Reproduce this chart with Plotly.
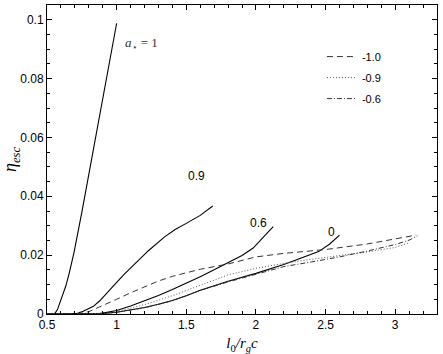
import plotly.graph_objects as go

# spin a* = 1, 0.9, 0.6, 0 (solid)
x_a1 = [0.5, 0.554, 0.575, 0.595, 0.612, 0.635, 0.66, 0.693, 0.75, 0.8, 0.9, 1.0]
y_a1 = [0, 0, 0.0015, 0.004, 0.0065, 0.0095, 0.014, 0.0207, 0.0345, 0.0475, 0.073, 0.0988]

x_a09 = [0.5, 0.705, 0.76, 0.833, 0.879, 0.94, 0.995, 1.05, 1.112, 1.228, 1.344, 1.42, 1.5, 1.6, 1.69]
y_a09 = [0, 0, 0.0009, 0.0026, 0.0045, 0.0075, 0.0105, 0.0133, 0.0161, 0.0215, 0.0262, 0.0287, 0.0308, 0.0335, 0.0367]

x_a06 = [0.5, 0.85, 0.9, 1.0, 1.1, 1.2, 1.3, 1.4, 1.5, 1.6, 1.7, 1.8, 1.9, 1.98, 2.05, 2.124]
y_a06 = [0, 0, 0.0003, 0.0012, 0.0027, 0.0044, 0.0063, 0.0083, 0.0104, 0.0127, 0.015, 0.0174, 0.0199, 0.0224, 0.0258, 0.0297]

x_a0 = [0.5, 0.8, 0.9, 1.0, 1.1, 1.2, 1.3, 1.4, 1.5, 1.6, 1.8, 2.0, 2.2, 2.45, 2.53, 2.6]
y_a0 = [0, 0, 0.0002, 0.0006, 0.0013, 0.0022, 0.0033, 0.0046, 0.0062, 0.0081, 0.0111, 0.0138, 0.0168, 0.0212, 0.0238, 0.0268]

# retrograde spins (legend)
x_m10 = [0.5, 0.72, 0.8, 0.9, 1.0, 1.1, 1.2, 1.3, 1.4, 1.5, 1.6, 1.7, 1.8, 1.9, 2.0, 2.2, 2.5, 2.8, 3.0, 3.15]
y_m10 = [0, 0, 0.0008, 0.0028, 0.005, 0.0072, 0.0093, 0.0112, 0.0128, 0.0141, 0.0152, 0.0161, 0.017, 0.0182, 0.0194, 0.0206, 0.0219, 0.0238, 0.0254, 0.0268]

x_m09 = [0.5, 0.85, 0.9, 1.0, 1.2, 1.4, 1.6, 1.8, 2.0, 2.2, 2.4, 2.6, 2.8, 3.0, 3.1]
y_m09 = [0, 0, 0.0002, 0.0008, 0.0032, 0.0062, 0.0098, 0.0133, 0.0155, 0.0172, 0.0186, 0.0198, 0.0211, 0.0226, 0.0242]

x_m06 = [0.5, 0.8, 0.9, 1.0, 1.2, 1.4, 1.6, 1.8, 2.0, 2.2, 2.4, 2.6, 2.8, 3.0, 3.1, 3.16]
y_m06 = [0, 0, 0.0002, 0.0006, 0.0021, 0.0045, 0.008, 0.0109, 0.0134, 0.0161, 0.0177, 0.0194, 0.0214, 0.0236, 0.0251, 0.0266]

curve_labels = ["<i>a</i><sub>\u22c6</sub> = 1", "0.9", "0.6", "0"]
legend_names = ["-1.0", "-0.9", "-0.6"]

fig = go.Figure()

for xs, ys in [(x_a1, y_a1), (x_a09, y_a09), (x_a06, y_a06), (x_a0, y_a0)]:
    fig.add_trace(go.Scatter(x=xs, y=ys, mode="lines", showlegend=False,
                             line=dict(color="black", width=1.1)))

styles = ["6px,4px", "1px,2px", "5px,2px,1px,2px"]
colors = ["#333333", "#555555", "#333333"]
for i, (xs, ys) in enumerate([(x_m10, y_m10), (x_m09, y_m09), (x_m06, y_m06)]):
    fig.add_trace(go.Scatter(x=xs, y=ys, mode="lines", name=legend_names[i],
                             legendgroup=legend_names[i],
                             line=dict(color=colors[i], width=1, dash=styles[i])))

# curve labels
fig.add_annotation(x=1.18, y=0.092, text=curve_labels[0], showarrow=False,
                   font=dict(family="Liberation Serif", size=13, color="#333"))
fig.add_annotation(x=1.575, y=0.0469, text=curve_labels[1], showarrow=False,
                   font=dict(family="Liberation Sans", size=12, color="black"))
fig.add_annotation(x=2.02, y=0.031, text=curve_labels[2], showarrow=False,
                   font=dict(family="Liberation Sans", size=12, color="black"))
fig.add_annotation(x=2.545, y=0.028, text=curve_labels[3], showarrow=False,
                   font=dict(family="Liberation Sans", size=12, color="black"))

axis_common = dict(showline=True, linecolor="black", linewidth=1, mirror="allticks",
                   ticks="inside", ticklen=5, tickcolor="black", showgrid=False,
                   zeroline=False, tickfont=dict(family="Liberation Sans", size=12, color="black"))

fig.update_xaxes(range=[0.5, 3.3], tick0=0.5, dtick=0.5,
                 minor=dict(dtick=0.1, ticks="inside", ticklen=3, tickcolor="black"),
                 title=dict(text="<i>l</i><sub>0</sub><i>/r</i><sub><i>g</i></sub><i>c</i>",
                            font=dict(family="Liberation Serif", size=15, color="black"),
                            standoff=6),
                 **axis_common)
fig.update_yaxes(range=[0, 0.105], tick0=0, dtick=0.02,
                 minor=dict(dtick=0.005, ticks="inside", ticklen=3, tickcolor="black"),
                 title=dict(text="<i>\u03b7</i><sub><i>esc</i></sub>",
                            font=dict(family="Liberation Serif", size=18, color="black"),
                            standoff=4),
                 **axis_common)

fig.update_layout(
    width=443, height=354,
    margin=dict(l=39, r=6, t=4, b=40),
    plot_bgcolor="white", paper_bgcolor="white",
    legend=dict(x=0.705, y=0.88, xanchor="left", yanchor="top",
                bgcolor="rgba(0,0,0,0)", tracegroupgap=2,
                font=dict(family="Liberation Sans", size=11, color="black")),
)

fig.write_html("out.html", config={"displayModeBar": False},
               post_script="document.body.style.margin='0';")
